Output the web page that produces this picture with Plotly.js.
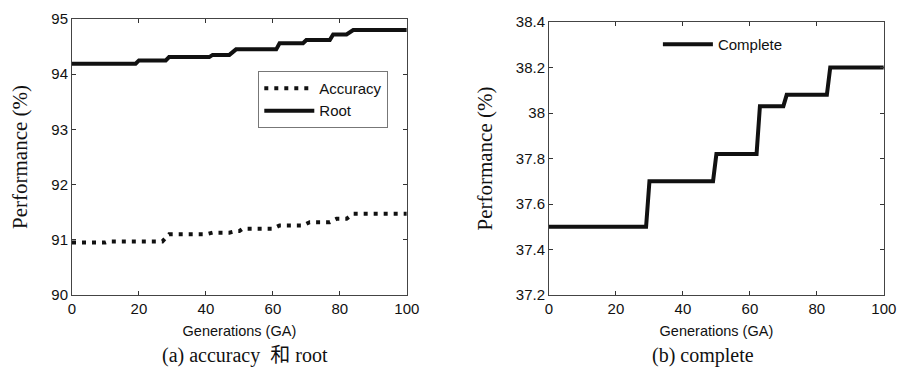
<!DOCTYPE html>
<html>
<head>
<meta charset="utf-8">
<script src="https://cdn.plot.ly/plotly-3.0.1.min.js"></script>
<style>html,body{margin:0;padding:0;background:#fff}#chart{width:900px;height:377px}</style>
</head>
<body>
<div id="chart"></div>
<script>
// ---- data ----
var genRoot = [0, 19, 20, 28, 29, 41, 42, 47, 49, 61, 62, 69, 70, 77, 78, 82, 84, 100];
var rootVals = [94.19, 94.19, 94.25, 94.25, 94.31, 94.31, 94.35, 94.35, 94.45, 94.45, 94.56, 94.56, 94.62, 94.62, 94.72, 94.72, 94.80, 94.80];

var genAcc = [0, 10, 11, 27, 29, 40, 42, 47, 49, 50, 51, 60, 62, 69, 71, 77, 79, 82, 84, 100];
var accVals = [90.95, 90.95, 90.97, 90.97, 91.10, 91.10, 91.13, 91.13, 91.16, 91.16, 91.20, 91.20, 91.26, 91.26, 91.32, 91.32, 91.38, 91.38, 91.47, 91.47];

var genComp = [0, 29, 30, 49, 50, 62, 63, 70, 71, 83, 84, 100];
var compVals = [37.5, 37.5, 37.7, 37.7, 37.82, 37.82, 38.03, 38.03, 38.08, 38.08, 38.2, 38.2];

var xTicks = [0, 20, 40, 60, 80, 100];
var yTicksA = [90, 91, 92, 93, 94, 95];
var yTicksB = [37.2, 37.4, 37.6, 37.8, 38, 38.2, 38.4];
var yTickTextB = ['37.2', '37.4', '37.6', '37.8', '38', '38.2', '38.4'];

var sans = 'Liberation Sans, Arial, sans-serif';
var serif = 'Liberation Serif, Times New Roman, Noto Sans CJK SC, serif';

var traces = [
  {x: genAcc, y: accVals, name: 'Accuracy', mode: 'lines', xaxis: 'x', yaxis: 'y',
   line: {color: '#111', width: 4, dash: '4px,6px'}, legend: 'legend'},
  {x: genRoot, y: rootVals, name: 'Root', mode: 'lines', xaxis: 'x', yaxis: 'y',
   line: {color: '#111', width: 4}, legend: 'legend'},
  {x: genComp, y: compVals, name: 'Complete', mode: 'lines', xaxis: 'x2', yaxis: 'y2',
   line: {color: '#111', width: 4}, legend: 'legend2'}
];

function xax(domain, anchor) {
  return {domain: domain, anchor: anchor, range: [0, 100], tickvals: xTicks,
    ticks: 'inside', ticklen: 4, tickcolor: '#333', showline: true, linecolor: '#444', linewidth: 1,
    mirror: 'ticks', showgrid: false, zeroline: false, automargin: false,
    tickfont: {family: sans, size: 15, color: '#111'},
    title: {text: 'Generations (GA)', font: {family: sans, size: 14.5, color: '#111'}, standoff: 9}};
}
function yax(domain, anchor, range, vals, txt) {
  var o = {domain: domain, anchor: anchor, range: range, tickvals: vals,
    ticks: 'inside', ticklen: 4, tickcolor: '#333', showline: true, linecolor: '#444', linewidth: 1,
    mirror: 'ticks', showgrid: false, zeroline: false, automargin: false,
    tickfont: {family: sans, size: 15, color: '#111'},
    title: {text: 'Performance (%)', font: {family: serif, size: 21, color: '#111'}, standoff: 17}};
  if (txt) o.ticktext = txt;
  return o;
}

var layout = {
  width: 900, height: 377,
  margin: {l: 0, r: 0, t: 0, b: 0},
  paper_bgcolor: '#fff', plot_bgcolor: '#fff',
  showlegend: true,
  xaxis: xax([0.08, 0.452], 'y'),
  yaxis: yax([0.2175, 0.9496], 'x', [90, 95], yTicksA),
  xaxis2: xax([0.61, 0.982], 'y2'),
  yaxis2: yax([0.2175, 0.9416], 'x2', [37.2, 38.4], yTicksB, yTickTextB),
  legend: {x: 0.287, y: 0.812, xanchor: 'left', yanchor: 'top', bgcolor: 'rgba(255,255,255,0)',
    bordercolor: '#777', borderwidth: 1, itemwidth: 50, tracegroupgap: 0,
    font: {family: sans, size: 15, color: '#111'}},
  legend2: {x: 0.731, y: 0.926, xanchor: 'left', yanchor: 'top', bgcolor: 'rgba(255,255,255,0)',
    borderwidth: 0, itemwidth: 50,
    font: {family: sans, size: 15, color: '#111'}},
  annotations: [
    {text: '(a) accuracy  和 root', xref: 'paper', yref: 'paper', x: 0.272, y: 0.058,
     xanchor: 'center', yanchor: 'middle', showarrow: false,
     font: {family: serif, size: 20, color: '#111'}},
    {text: '(b) complete', xref: 'paper', yref: 'paper', x: 0.781, y: 0.058,
     xanchor: 'center', yanchor: 'middle', showarrow: false,
     font: {family: serif, size: 20, color: '#111'}}
  ]
};

Plotly.newPlot('chart', traces, layout, {staticPlot: true, displayModeBar: false});
</script>
</body>
</html>
